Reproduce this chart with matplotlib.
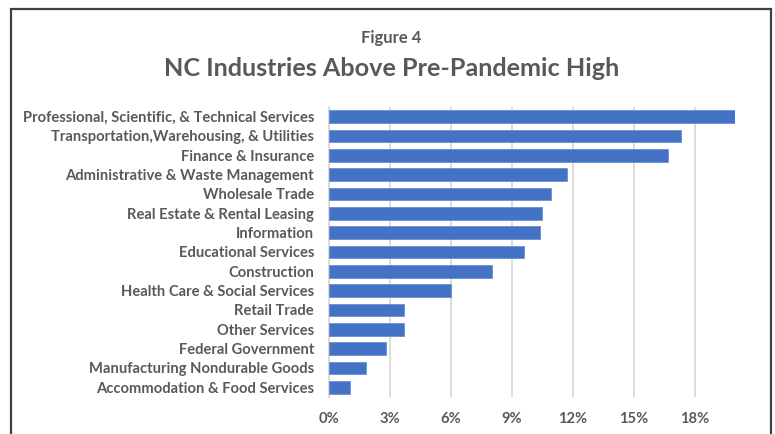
import matplotlib.pyplot as plt
from matplotlib.patches import Rectangle
from matplotlib.ticker import FuncFormatter

plt.rcParams['font.family'] = ['Lato', 'DejaVu Sans']

# Growth above pre-pandemic high, by industry (fraction)
industries = [
    "Professional, Scientific, & Technical Services",
    "Transportation,Warehousing, & Utilities",
    "Finance & Insurance",
    "Administrative & Waste Management",
    "Wholesale Trade",
    "Real Estate & Rental Leasing",
    "Information",
    "Educational Services",
    "Construction",
    "Health Care & Social Services",
    "Retail Trade",
    "Other Services",
    "Federal Government",
    "Manufacturing Nondurable Goods",
    "Accommodation & Food Services",
]
pct_above = [0.200, 0.173, 0.167, 0.117, 0.109, 0.105, 0.104, 0.096,
             0.080, 0.060, 0.037, 0.037, 0.028, 0.018, 0.010]
x_ticks = [0, 0.03, 0.06, 0.09, 0.12, 0.15, 0.18]

text_gray = "#595959"

fig = plt.figure(figsize=(7.75, 4.34), dpi=100)
ax = fig.add_axes([0.4249, 0.0853, 0.5239, 0.6682])

ax.barh(range(len(industries)), pct_above, height=0.66, color="#4472c4",
        edgecolor="#6a8fd4", linewidth=0.6, zorder=3)
ax.set_ylim(len(industries) - 0.5, -0.5)
ax.set_xlim(0, 0.20)

ax.set_yticks(range(len(industries)))
ax.set_yticklabels(industries)
ax.set_xticks(x_ticks)
ax.xaxis.set_major_formatter(FuncFormatter(lambda v, _: f"{v * 100:.0f}%"))
ax.tick_params(axis="y", length=0, pad=11, labelsize=10.6, labelcolor=text_gray)
ax.tick_params(axis="x", length=0, pad=11, labelsize=10.6, labelcolor=text_gray)
for lbl in ax.get_yticklabels() + ax.get_xticklabels():
    lbl.set_fontweight("bold")

ax.grid(axis="x", color="#d9d9d9", linewidth=1.3, zorder=0)
for side in ["top", "right", "bottom"]:
    ax.spines[side].set_visible(False)
ax.spines["left"].set_color("#d9d9d9")
ax.spines["left"].set_linewidth(1.3)

fig.text(0.505, 0.912, "Figure 4", ha="center", va="center",
         fontsize=12, fontweight="bold", color=text_gray)
fig.text(0.505, 0.843, "NC Industries Above Pre-Pandemic High", ha="center",
         va="center", fontsize=18.2, fontweight="bold", color=text_gray)

# frame around the whole chart
fig.patches.append(Rectangle((11 / 775, -0.05), 760 / 775, 1.05 - 9 / 434,
                             transform=fig.transFigure, fill=False,
                             edgecolor="#404040", linewidth=1.6))

fig.savefig("out.png", dpi=100)
